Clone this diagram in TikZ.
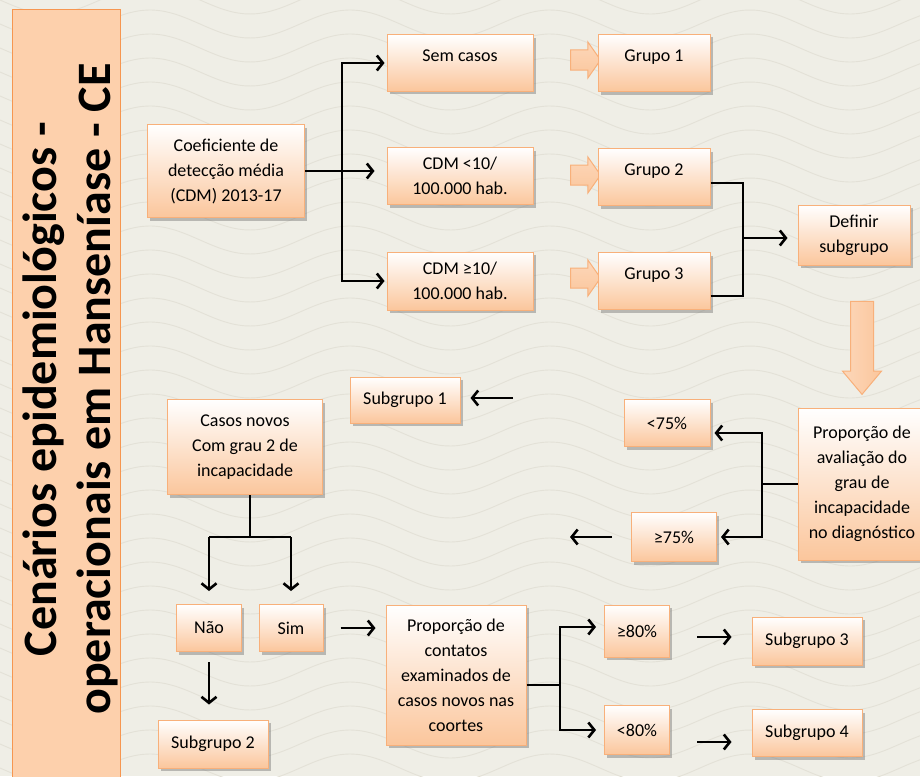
\documentclass[tikz,border=0pt]{standalone}
\usepackage{fontspec}
\setmainfont{Carlito}
\usepackage{tikz}
\usetikzlibrary{positioning, shapes.arrows, shadows, arrows.meta}

\definecolor{bgbeige}{RGB}{239,238,230}
\definecolor{wavegray}{RGB}{227,225,215}
\definecolor{boxpeach}{RGB}{251,198,156}
\definecolor{boxline}{RGB}{248,176,122}
\definecolor{titlepeach}{RGB}{253,208,172}
\definecolor{titleline}{RGB}{246,150,80}

\begin{document}
\begin{tikzpicture}[x=1pt, y=-1pt, font=\fontsize{18}{25}\selectfont]
	\tikzstyle{box}=[rectangle, draw=boxline, line width=1pt, top color=white, bottom color=boxpeach, align=center, inner sep=2pt, drop shadow={shadow xshift=2.5pt, shadow yshift=-3pt, opacity=0.4, fill=black!60}]
	\tikzstyle{topbox}=[box, text height=13pt, text depth=17pt]
	\tikzstyle{link}=[line width=2.6pt]
	\tikzstyle{arr}=[link, -{Straight Barb[length=6pt, width=15pt]}]
	\tikzstyle{blockarrow}=[single arrow, draw=boxline, line width=1pt, top color=white!30!boxpeach, bottom color=boxpeach, minimum height=30pt, inner sep=9.5pt, single arrow head extend=8pt, single arrow tip angle=110]
	\tikzstyle{wave}=[wavegray, line width=0.9pt]

	% background
	\fill[bgbeige] (0,0) rectangle (920,776);
	\useasboundingbox (0,0) rectangle (920,776);
	\begin{scope}
		\clip (0,0) rectangle (920,776);
		\foreach \k in {-2,...,34}
			\draw[wave] plot[domain=0:920, samples=80, smooth] (\x, {\k*24 + 14*sin(\x*1.8)});
	\end{scope}

	% title bar
	\node[rectangle, draw=titleline, line width=1pt, fill=titlepeach, minimum width=108pt, minimum height=790pt, inner sep=0pt](titlebar) at (66,405) {};
	\node[rotate=90, align=center, font=\fontsize{48}{54}\selectfont\bfseries](title) at (70,389) {Cenários epidemiológicos -\\operacionais em Hanseníase - CE};

	% top part
	\node[box, minimum width=157pt, minimum height=93pt](coef) at (226,171) {Coeficiente de\\detecção média\\(CDM) 2013-17};
	\node[topbox, minimum width=146pt, minimum height=56pt](sem) at (460,63) {Sem casos};
	\node[box, minimum width=146pt, minimum height=57pt](cdm1) at (460,176) {CDM <10/\\100.000 hab.};
	\node[box, minimum width=146pt, minimum height=58pt](cdm2) at (460,281) {CDM ≥10/\\100.000 hab.};
	\node[blockarrow](ba1) at (582,60) {};
	\node[blockarrow](ba2) at (582,175) {};
	\node[blockarrow](ba3) at (582,278) {};
	\node[topbox, minimum width=112pt, minimum height=57pt](grp1) at (654,63) {Grupo 1};
	\node[topbox, minimum width=112pt, minimum height=57pt](grp2) at (654,177) {Grupo 2};
	\node[topbox, minimum width=112pt, minimum height=57pt](grp3) at (654,281) {Grupo 3};
	\node[box, minimum width=112pt, minimum height=60pt](defsub) at (854,235) {Definir\\subgrupo};
	\node[blockarrow, shape border rotate=270, left color=white!30!boxpeach, right color=boxpeach, inner sep=11pt, minimum height=93pt, single arrow tip angle=80](bigdown) at (862,341) {};

	\coordinate (t1) at (342,172);
	\draw[arr, shorten >=12pt] (coef.east) -- (coef.east -| cdm1.west);
	\draw[arr, shorten >=2pt] (t1) |- (sem.west);
	\draw[arr, shorten >=2pt] (t1) |- (cdm2.west);
	\coordinate (b1) at (743,238);
	\draw[link] ([yshift=-6pt]grp2.east) -| (b1);
	\draw[link] ([yshift=-15pt]grp3.east) -| (b1);
	\draw[arr, shorten >=10pt] (b1) -- (b1 -| defsub.west);

	% middle part
	\node[box, minimum width=128pt, minimum height=152pt](aval) at (862,484) {Proporção de\\avaliação do\\grau de\\incapacidade\\no diagnóstico};
	\node[box, minimum width=86pt, minimum height=47pt](lt75) at (667,423) {<75\%};
	\node[box, minimum width=85pt, minimum height=49pt](ge75) at (674,537) {≥75\%};
	\node[box, minimum width=110pt, minimum height=46pt](sub1) at (405,400) {Subgrupo 1};
	\node[box, minimum width=155pt, minimum height=95pt](casos) at (245,447) {Casos novos\\Com grau 2 de\\incapacidade};

	\coordinate (b2) at (762,484);
	\draw[link] (aval.west) -- (b2);
	\draw[arr, shorten >=4pt] (b2) |- ([yshift=-10pt]lt75.east);
	\draw[arr, shorten >=4pt] (b2) |- (ge75.east);
	\coordinate (e1) at (570,537);
	\draw[arr, shorten <=19pt] (ge75.west) -- (e1);
	\coordinate (e2) at (513,398);
	\draw[arr, shorten >=10pt] (e2) -- (e2 -| sub1.east);

	% bottom part
	\node[box, minimum width=65pt, minimum height=47pt](nao) at (209,628) {Não};
	\node[box, minimum width=64pt, minimum height=47pt](sim) at (291,628) {Sim};
	\node[box, minimum width=110pt, minimum height=48pt](sub2) at (213,744) {Subgrupo 2};
	\node[box, minimum width=140pt, minimum height=140pt](prop) at (456,675) {Proporção de\\contatos\\examinados de\\casos novos nas\\coortes};
	\node[box, minimum width=65pt, minimum height=52pt](ge80) at (637,631) {≥80\%};
	\node[box, minimum width=65pt, minimum height=49pt](lt80) at (637,730) {<80\%};
	\node[box, minimum width=110pt, minimum height=48pt](sub3) at (807,641) {Subgrupo 3};
	\node[box, minimum width=110pt, minimum height=47pt](sub4) at (807,733) {Subgrupo 4};

	\coordinate (b3) at (250,537);
	\draw[link] (casos.south -| b3) -- (b3);
	\draw[link] (b3 -| nao.north) -- (b3 -| sim.north);
	\draw[arr, shorten >=13pt] (b3 -| nao.north) -- (nao.north);
	\draw[arr, shorten >=13pt] (b3 -| sim.north) -- (sim.north);
	\draw[arr, shorten <=10pt, shorten >=15pt] (nao.south) -- (nao.south |- sub2.north);
	\draw[arr, shorten <=17pt, shorten >=10pt] (sim.east) -- (sim.east -| prop.west);
	\coordinate (b4) at (560,685);
	\draw[link] ([yshift=-10pt]prop.east) -- (b4);
	\draw[arr, shorten >=8pt] (b4) |- ([yshift=4pt]ge80.west);
	\draw[arr, shorten >=8pt] (b4) |- (lt80.west);
	\draw[arr, shorten <=27pt, shorten >=20pt, transform canvas={yshift=-6pt}] (ge80.east) -- (ge80.east -| sub3.west);
	\draw[arr, shorten <=27pt, shorten >=20pt, transform canvas={yshift=-12pt}] (lt80.east) -- (lt80.east -| sub4.west);
\end{tikzpicture}
\end{document}
